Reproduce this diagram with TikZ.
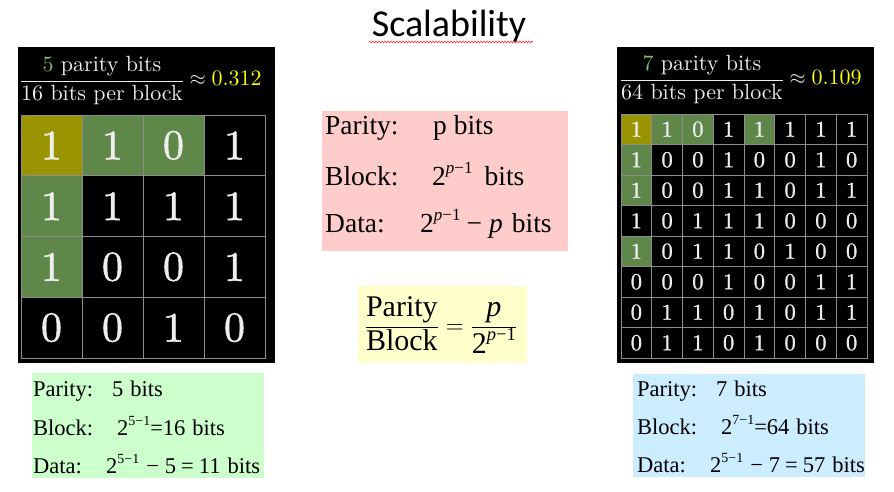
\documentclass[tikz,border=0pt]{standalone}
\usepackage{fontspec}
\usetikzlibrary{decorations.pathmorphing}
\newfontfamily\tnr{Liberation Serif}
\newfontfamily\titlefont{Carlito}
\newfontfamily\lmten{lmroman10-regular.otf}
\newfontfamily\lmgrid{lmroman10-regular.otf}[FakeBold=1.2]
\makeatletter
\newcommand\supr[1]{\raisebox{0.42em}{\fontsize{\fpeval{0.62*\f@size}}{0}\selectfont #1}}
\makeatother
\definecolor{cOlive}{HTML}{9A9400}
\definecolor{cGreen}{HTML}{5F874A}
\definecolor{numG}{HTML}{86B86C}
\definecolor{txtW}{HTML}{EEEEEE}
\definecolor{gridG}{HTML}{8C8C8C}
\definecolor{cPink}{HTML}{FFCCCC}
\definecolor{cYel}{HTML}{FFFFCC}
\definecolor{cMint}{HTML}{CCFFCC}
\definecolor{cSky}{HTML}{CCECFF}
\definecolor{cYellowTxt}{HTML}{FFFF00}
\tikzset{
  bigcell/.style={draw=gridG, line width=0.9pt, minimum width=61pt, minimum height=60.75pt, inner sep=0pt, text=txtW, font=\lmgrid\fontsize{42}{46}\selectfont},
  smallcell/.style={draw=gridG, line width=0.8pt, minimum width=30.75pt, minimum height=30.5pt, inner sep=0pt, text=txtW, font=\lmgrid\fontsize{22.5}{26}\selectfont},
  head/.style={anchor=base west, inner sep=0pt, text=txtW, font=\lmten\fontsize{22}{26}\selectfont},
  panel/.style={fill=black, draw=none, inner sep=0pt, anchor=north west},
  infobox/.style={draw=none, inner sep=0pt, anchor=north west},
  pinkline/.style={anchor=base west, inner sep=0pt, font=\tnr\fontsize{27.5}{30}\selectfont},
  smallline/.style={anchor=base west, inner sep=0pt, font=\tnr\fontsize{22.5}{26}\selectfont},
}
\begin{document}
\begin{tikzpicture}[x=1pt, y=-1pt]
\useasboundingbox (0,0) rectangle (894,492);
\fill[white] (0,0) rectangle (894,492);

% title
\node[font=\titlefont\fontsize{38}{40}\selectfont, inner sep=0pt, anchor=base] (title) at (449,37) {Scalability};
\draw[red!80!white, line width=0.6pt, decorate, decoration={snake, amplitude=0.9pt, segment length=3pt}] (369,42) -- (533,42);

% ---------- left panel ----------
\node[panel, minimum width=257pt, minimum height=316pt] (Lpanel) at (18,47) {};
\fill[cOlive] (21,115) rectangle (82,175.75);
\fill[cGreen] (82,115) rectangle (204,175.75);
\fill[cGreen] (21,175.75) rectangle (82,297.25);
\foreach \row [count=\r] in {{1,1,0,1},{1,1,1,1},{1,0,0,1},{0,0,1,0}}{
  \foreach \d [count=\c] in \row {
    \node[bigcell] (L-\r-\c) at ({21+61*(\c-0.5)},{115+60.75*(\r-0.5)}) {\d};
  }
}
\node[head] (Lhead) at (19.8,86) {$\displaystyle\frac{\mbox{{\color{numG}5} parity bits}}{\mbox{16 bits per block}}\approx\mbox{\color{cYellowTxt}0.312}$};

% ---------- right panel ----------
\node[panel, minimum width=257pt, minimum height=316pt] (Rpanel) at (617,47) {};
\fill[cOlive] (621,114) rectangle (651.75,144.5);
\fill[cGreen] (651.75,114) rectangle (713.25,144.5);
\fill[cGreen] (744,114) rectangle (774.75,144.5);
\fill[cGreen] (621,144.5) rectangle (651.75,205.5);
\fill[cGreen] (621,236) rectangle (651.75,266.5);
\foreach \row [count=\r] in {{1,1,0,1,1,1,1,1},{1,0,0,1,0,0,1,0},{1,0,0,1,1,0,1,1},{1,0,1,1,1,0,0,0},{1,0,1,1,0,1,0,0},{0,0,0,1,0,0,1,1},{0,1,1,0,1,0,1,1},{0,1,1,0,1,0,0,0}}{
  \foreach \d [count=\c] in \row {
    \node[smallcell] (R-\r-\c) at ({621+30.75*(\c-0.5)},{114+30.5*(\r-0.5)}) {\d};
  }
}
\node[head] (Rhead) at (619.8,85) {$\displaystyle\frac{\mbox{{\color{numG}7} parity bits}}{\mbox{64 bits per block}}\approx\mbox{\color{cYellowTxt}0.109}$};

% ---------- pink box ----------
\node[infobox, fill=cPink, minimum width=246pt, minimum height=140pt] (pink) at (322,111) {};
\node[pinkline] (p1) at (325,135) {\makebox[108pt][l]{Parity:}p bits};
\node[pinkline] (p2) at (325,185) {\makebox[107pt][l]{Block:}2\supr{\itshape p\/\upshape −1}\hspace{12pt}bits};
\node[pinkline] (p3) at (325,232) {\makebox[95pt][l]{Data:}2\supr{\itshape p\/\upshape −1}\hspace{6pt}−\hspace{7pt}\textit{p}\hspace{9pt}bits};

% ---------- yellow formula ----------
\node[infobox, fill=cYel, minimum width=169pt, minimum height=77pt] (yel) at (358,286) {};
\node[inner sep=0pt, font=\tnr\fontsize{30}{34}\selectfont] (frac) at (441,325) {$\displaystyle\frac{\mbox{Parity}}{\mbox{Block}}=\frac{\mbox{\itshape p}}{\mbox{2\supr{\itshape p\/\upshape −1}}}$};

% ---------- green box ----------
\node[infobox, fill=cMint, minimum width=232pt, minimum height=105pt] (mint) at (32,373) {};
\node[smallline] (g1) at (33,396) {\makebox[79pt][l]{Parity:}5\hspace{7pt}bits};
\node[smallline] (g2) at (33,435) {\makebox[84pt][l]{Block:}2\supr{5−1}=16\hspace{7pt}bits};
\node[smallline] (g3) at (33,473) {\makebox[73pt][l]{Data:}2\supr{5−1}\hspace{7pt}−\hspace{6pt}5\hspace{5pt}=\hspace{5pt}11\hspace{7pt}bits};

% ---------- blue box ----------
\node[infobox, fill=cSky, minimum width=232pt, minimum height=103pt] (sky) at (633,374) {};
\node[smallline] (b1) at (637,396) {\makebox[79pt][l]{Parity:}7\hspace{7pt}bits};
\node[smallline] (b2) at (637,434) {\makebox[84pt][l]{Block:}2\supr{7−1}=64\hspace{7pt}bits};
\node[smallline] (b3) at (637,472) {\makebox[73pt][l]{Data:}2\supr{5−1}\hspace{7pt}−\hspace{6pt}7\hspace{5pt}=\hspace{5pt}57\hspace{7pt}bits};
\end{tikzpicture}
\end{document}
